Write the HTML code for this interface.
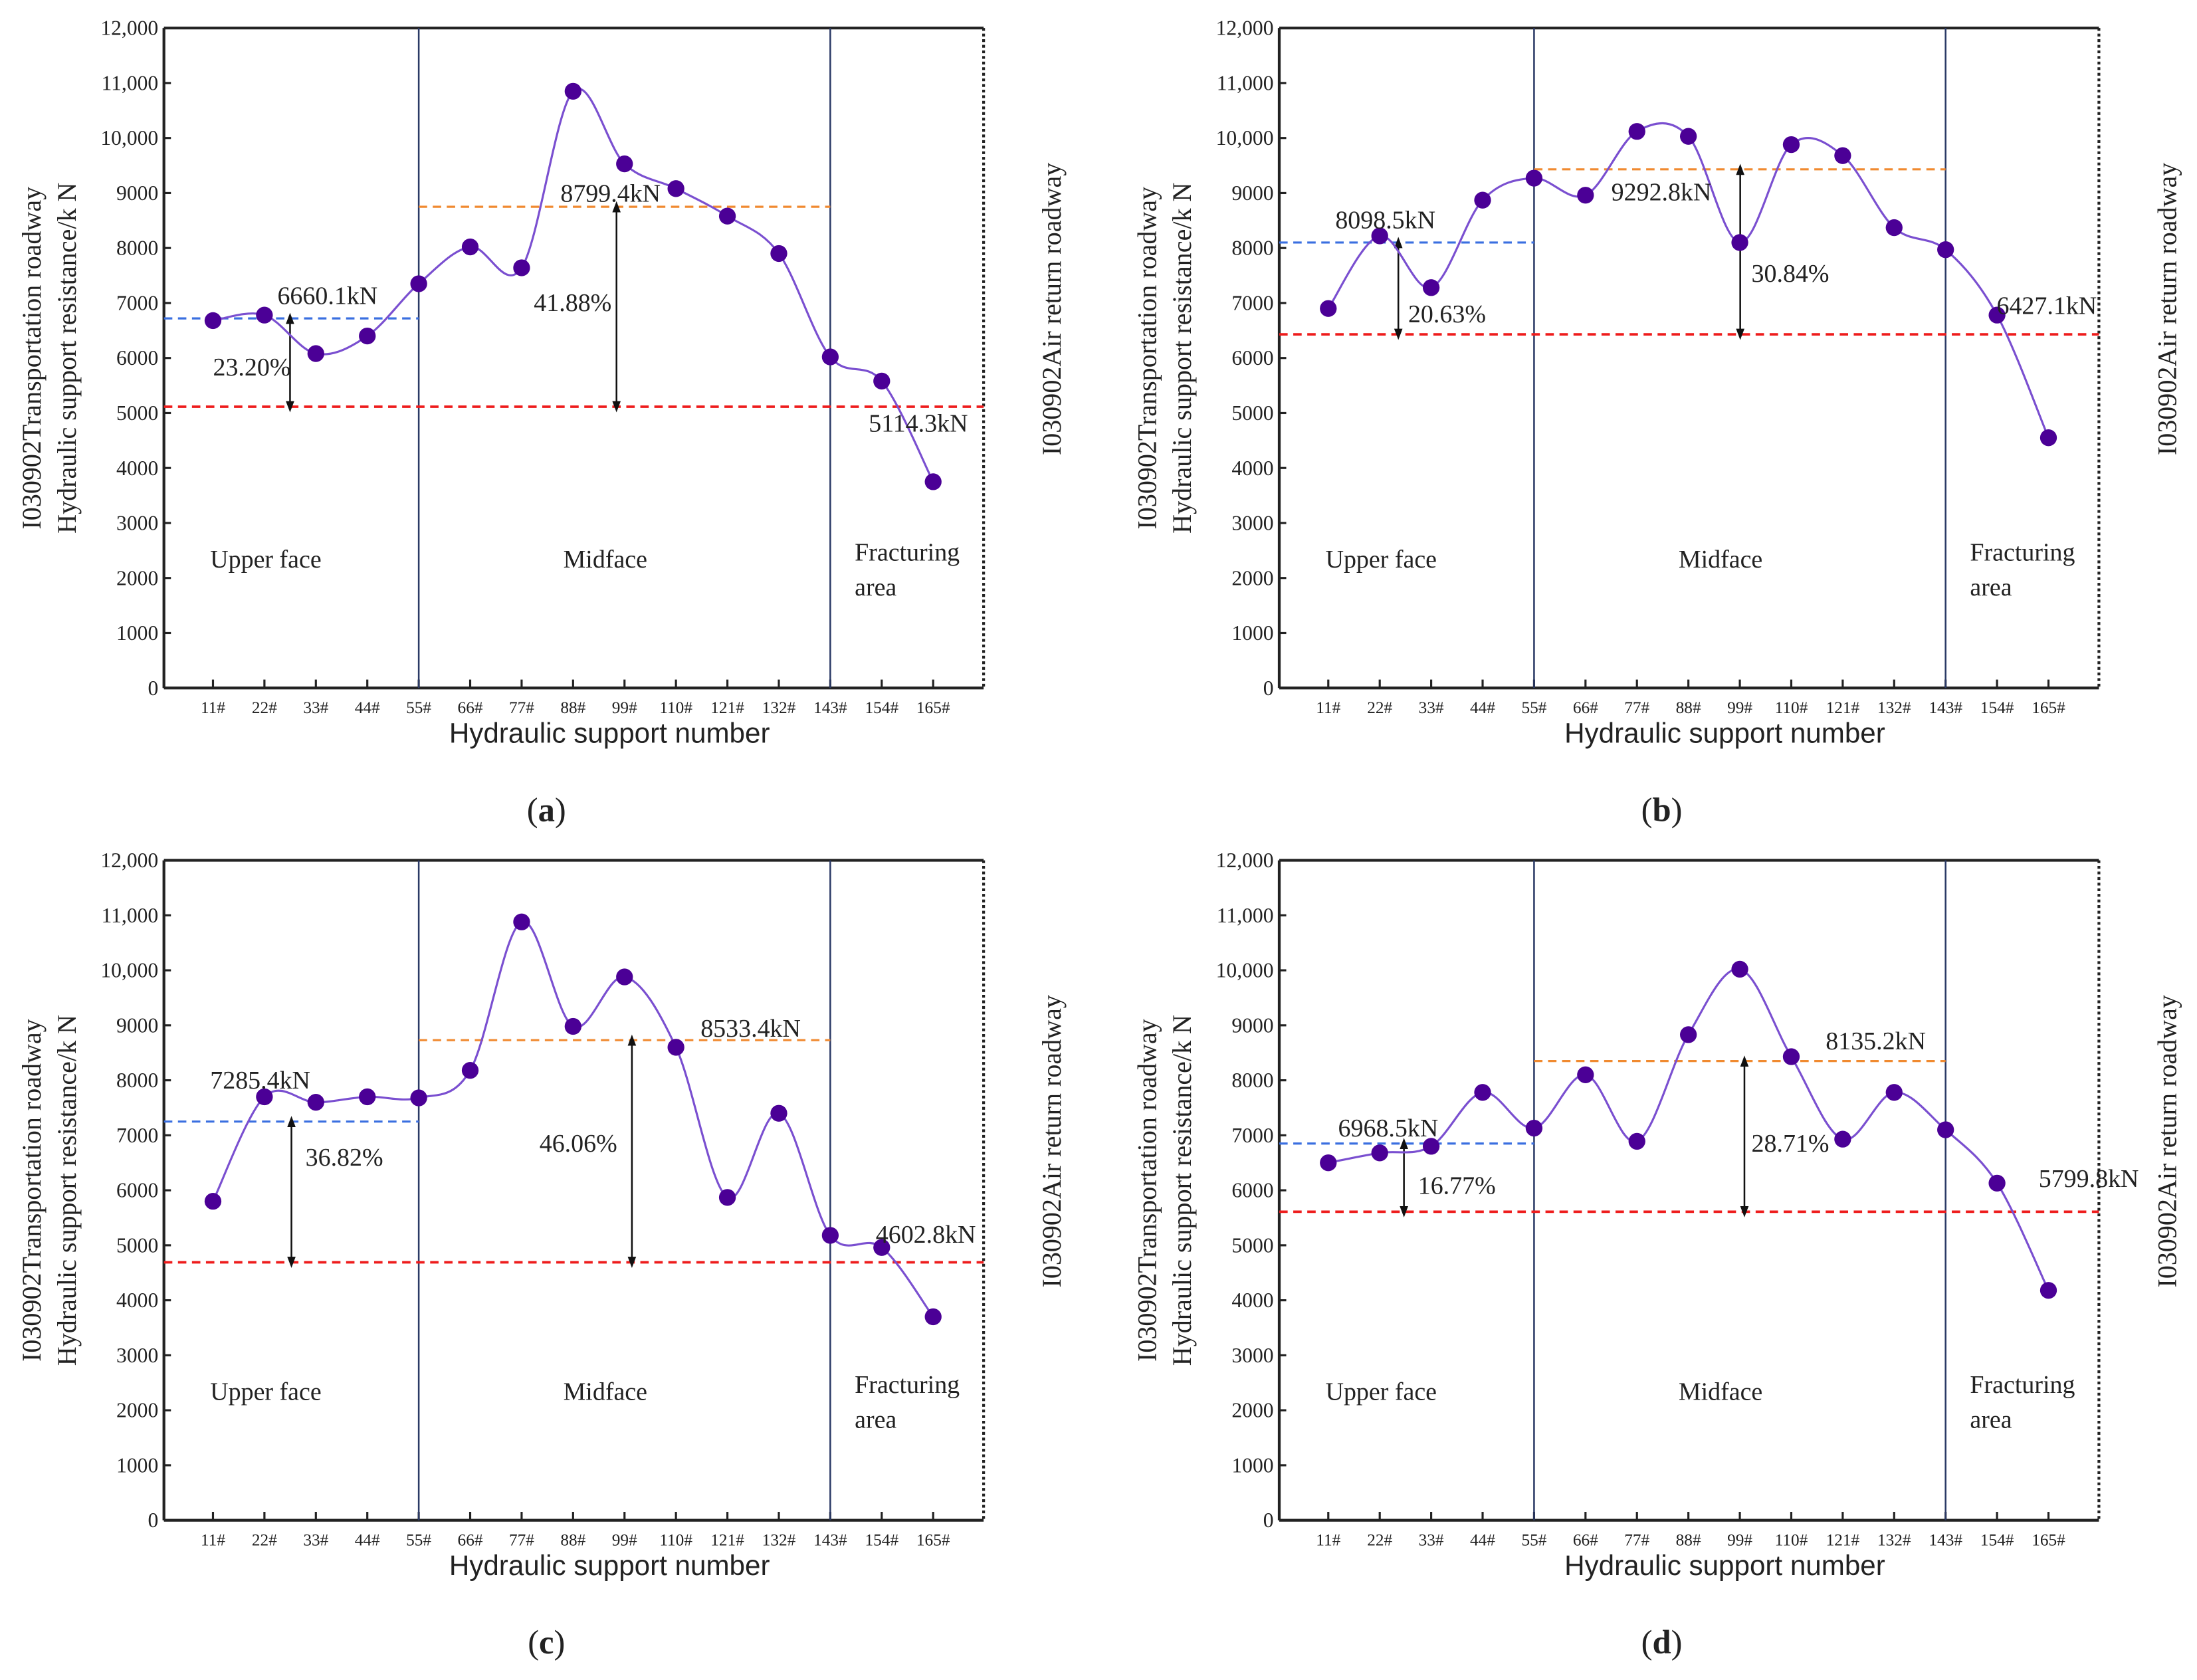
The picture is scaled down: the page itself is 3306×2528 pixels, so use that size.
<!DOCTYPE html>
<html><head><meta charset="utf-8"><style>
html,body{margin:0;padding:0;background:#fff;}
svg{display:block;}
text{font-family:"Liberation Serif",serif;fill:#222;}
</style></head><body>
<svg id="fig" width="3306" height="2528" viewBox="0 0 1568 1199" xmlns="http://www.w3.org/2000/svg"></svg>
<script>
const categories = ["11#","22#","33#","44#","55#","66#","77#","88#","99#","110#","121#","132#","143#","154#","165#"];
const yTicks = [0,1000,2000,3000,4000,5000,6000,7000,8000,9000,10000,11000,12000];
const yTickLabels = ["0","1000","2000","3000","4000","5000","6000","7000","8000","9000","10,000","11,000","12,000"];
const seriesA = [6680,6780,6080,6400,7350,8020,7640,10850,9530,9080,8580,7900,6020,5580,3750];
const seriesB = [6900,8220,7280,8870,9270,8960,10120,10030,8100,9880,9680,8370,7970,6780,4550];
const seriesC = [5800,7700,7600,7700,7680,8180,10880,8980,9880,8600,5870,7400,5180,4960,3700];
const seriesD = [6500,6680,6800,7780,7130,8100,6890,8830,10020,8430,6930,7780,7100,6130,4180];
const upperAvg = [6720,8100,7250,6850];
const midAvg = [8750,9430,8730,8350];
const fracAvg = [5114,6430,4690,5610];
const upperLabel = ["6660.1kN","8098.5kN","7285.4kN","6968.5kN"];
const midLabel = ["8799.4kN","9292.8kN","8533.4kN","8135.2kN"];
const fracLabel = ["5114.3kN","6427.1kN","4602.8kN","5799.8kN"];
const upperPct = ["23.20%","20.63%","36.82%","16.77%"];
const midPct = ["41.88%","30.84%","46.06%","28.71%"];
const panelLetters = ["a","b","c","d"];

const NS="http://www.w3.org/2000/svg";
const svg=document.getElementById('fig');
function mk(tag,attrs,parent,txt){const e=document.createElementNS(NS,tag);for(const k in attrs)e.setAttribute(k,attrs[k]);if(txt!==undefined)e.textContent=txt;(parent||svg).appendChild(e);return e;}
const defs=mk('defs',{});
const mrk=mk('marker',{id:'ah',markerWidth:8,markerHeight:8,refX:4,refY:4,orient:'auto-start-reverse',markerUnits:'userSpaceOnUse'},defs);
mk('path',{d:'M0,1 L8,4 L0,7 Z',fill:'#111'},mrk);

const allSeries=[seriesA,seriesB,seriesC,seriesD];
const offX=[0,796,0,796], offY=[0,0,594,594];
const lblPos=[
 {u:[198,211],up:[152,262],m:[400,138],mp:[381,216],f:[620,302]},
 {u:[157,157],up:[209,224],m:[354,137],mp:[454,195],f:[629,218]},
 {u:[150,177],up:[218,232],m:[500,140],mp:[385,222],f:[625,287]},
 {u:[159,211],up:[216,252],m:[507,149],mp:[454,222],f:[659,247]}
];
const arrowX=[[207,440],[202,446],[208,451],[206,449]];

for(let p=0;p<4;p++){
  const ox=offX[p], oy=offY[p];
  const g=mk('g',{});
  
  
  const L=117+ox, R=702+ox, T=20+oy, B=491+oy;
  const x0=152+ox, dx=(666-152)/14;
  const X=i=>x0+i*dx;
  const Y=v=>B-(v/12000)*(B-T);
  mk('line',{x1:L,y1:T,x2:R,y2:T,stroke:'#222','stroke-width':2},g);
  mk('line',{x1:R,y1:T,x2:R,y2:B,stroke:'#222','stroke-width':2,'stroke-dasharray':'2,2'},g);
  const ya=mk('line',{x1:L,y1:T,x2:L,y2:B,stroke:'#222','stroke-width':2},g);
  
  const xa=mk('line',{x1:L,y1:B,x2:R,y2:B,stroke:'#222','stroke-width':2},g);
  
  yTicks.forEach((v,i)=>{
    mk('line',{x1:L,y1:Y(v),x2:L+5,y2:Y(v),stroke:'#222','stroke-width':1.5},g);
    const t=mk('text',{x:L-4,y:Y(v)+5,'text-anchor':'end','font-size':15},g,yTickLabels[i]);
    
  });
  categories.forEach((c,i)=>{
    mk('line',{x1:X(i),y1:B,x2:X(i),y2:B-6,stroke:'#222','stroke-width':1.5},g);
    const t=mk('text',{x:X(i),y:B+18,'text-anchor':'middle','font-size':12},g,c);
    
  });
  [4,12].forEach(i=>{
    const d=mk('line',{x1:X(i),y1:T,x2:X(i),y2:B,stroke:'#2b3a66','stroke-width':1.2},g);
    
  });
  const bl=mk('line',{x1:L,y1:Y(upperAvg[p]),x2:X(4),y2:Y(upperAvg[p]),stroke:'#3a6fe0','stroke-width':1.5,'stroke-dasharray':'6,4'},g);
  
  const ol=mk('line',{x1:X(4),y1:Y(midAvg[p]),x2:X(12),y2:Y(midAvg[p]),stroke:'#f08a30','stroke-width':1.5,'stroke-dasharray':'6,4'},g);
  
  const rl=mk('line',{x1:L,y1:Y(fracAvg[p]),x2:R,y2:Y(fracAvg[p]),stroke:'#ee1c1c','stroke-width':1.8,'stroke-dasharray':'6,4'},g);
  
  const a1=mk('line',{x1:arrowX[p][0]+ox,y1:Y(upperAvg[p]),x2:arrowX[p][0]+ox,y2:Y(fracAvg[p]),stroke:'#111','stroke-width':1.2,'marker-start':'url(#ah)','marker-end':'url(#ah)'},g);
  
  const a2=mk('line',{x1:arrowX[p][1]+ox,y1:Y(midAvg[p]),x2:arrowX[p][1]+ox,y2:Y(fracAvg[p]),stroke:'#111','stroke-width':1.2,'marker-start':'url(#ah)','marker-end':'url(#ah)'},g);
  
  const s=allSeries[p];
  const pts=s.map((v,i)=>[X(i),Y(v)]);
  let d='M'+pts[0][0]+','+pts[0][1];
  for(let i=0;i<pts.length-1;i++){
    const p0=pts[Math.max(i-1,0)],p1=pts[i],p2=pts[i+1],p3=pts[Math.min(i+2,pts.length-1)];
    const c1=[p1[0]+(p2[0]-p0[0])/6,p1[1]+(p2[1]-p0[1])/6];
    const c2=[p2[0]-(p3[0]-p1[0])/6,p2[1]-(p3[1]-p1[1])/6];
    d+=' C'+c1[0]+','+c1[1]+' '+c2[0]+','+c2[1]+' '+p2[0]+','+p2[1];
  }
  const ln=mk('path',{d:d,fill:'none',stroke:'#7a4fd0','stroke-width':1.5},g);
  
  pts.forEach(pt=>{
    const c=mk('circle',{cx:pt[0],cy:pt[1],r:6,fill:'#4b0096'},g);
    
  });
  const lp=lblPos[p];
  const txt=(pos,s,name,fs)=>{const t=mk('text',{x:pos[0]+ox,y:pos[1]+oy+6,'font-size':fs||18},g,s);};
  txt(lp.u,upperLabel[p],'upper-average-label');
  txt(lp.up,upperPct[p],'upper-percent-label');
  txt(lp.m,midLabel[p],'mid-average-label');
  txt(lp.mp,midPct[p],'mid-percent-label');
  txt(lp.f,fracLabel[p],'fracturing-average-label');
  const dy = p<2?0:594;
  const t1=mk('text',{x:150+ox,y:405+dy,'font-size':18},g,'Upper face');
  const t2=mk('text',{x:402+ox,y:405+dy,'font-size':18},g,'Midface');
  const t3=mk('text',{x:610+ox,y:400+dy,'font-size':18},g,'Fracturing');
  const t4=mk('text',{x:610+ox,y:425+dy,'font-size':18},g,'area');
  const cy=(T+B)/2;
  const y1=mk('text',{x:0,y:0,'font-size':19,'text-anchor':'middle',transform:'translate('+(29+ox)+','+cy+') rotate(-90)'},g,'I030902Transportation roadway');
  
  const y2=mk('text',{x:0,y:0,'font-size':19,'text-anchor':'middle',transform:'translate('+(54+ox)+','+cy+') rotate(-90)'},g,'Hydraulic support resistance/k N');
  
  const y3=mk('text',{x:0,y:0,'font-size':19,'text-anchor':'middle',transform:'translate('+(757+ox)+','+(cy-35)+') rotate(-90)'},g,'I030902Air return roadway');
  
  const xt=mk('text',{x:435+ox,y:530+oy,'font-size':20,'text-anchor':'middle',style:'font-family:"Liberation Sans",sans-serif;'},g,'Hydraulic support number');
  
  const pl=mk('text',{x:390+ox,y:586+oy,'font-size':24,'text-anchor':'middle'},g);
  
  mk('tspan',{},pl,'(');mk('tspan',{'font-weight':'bold'},pl,panelLetters[p]);mk('tspan',{},pl,')');
}
</script>
</body></html>
